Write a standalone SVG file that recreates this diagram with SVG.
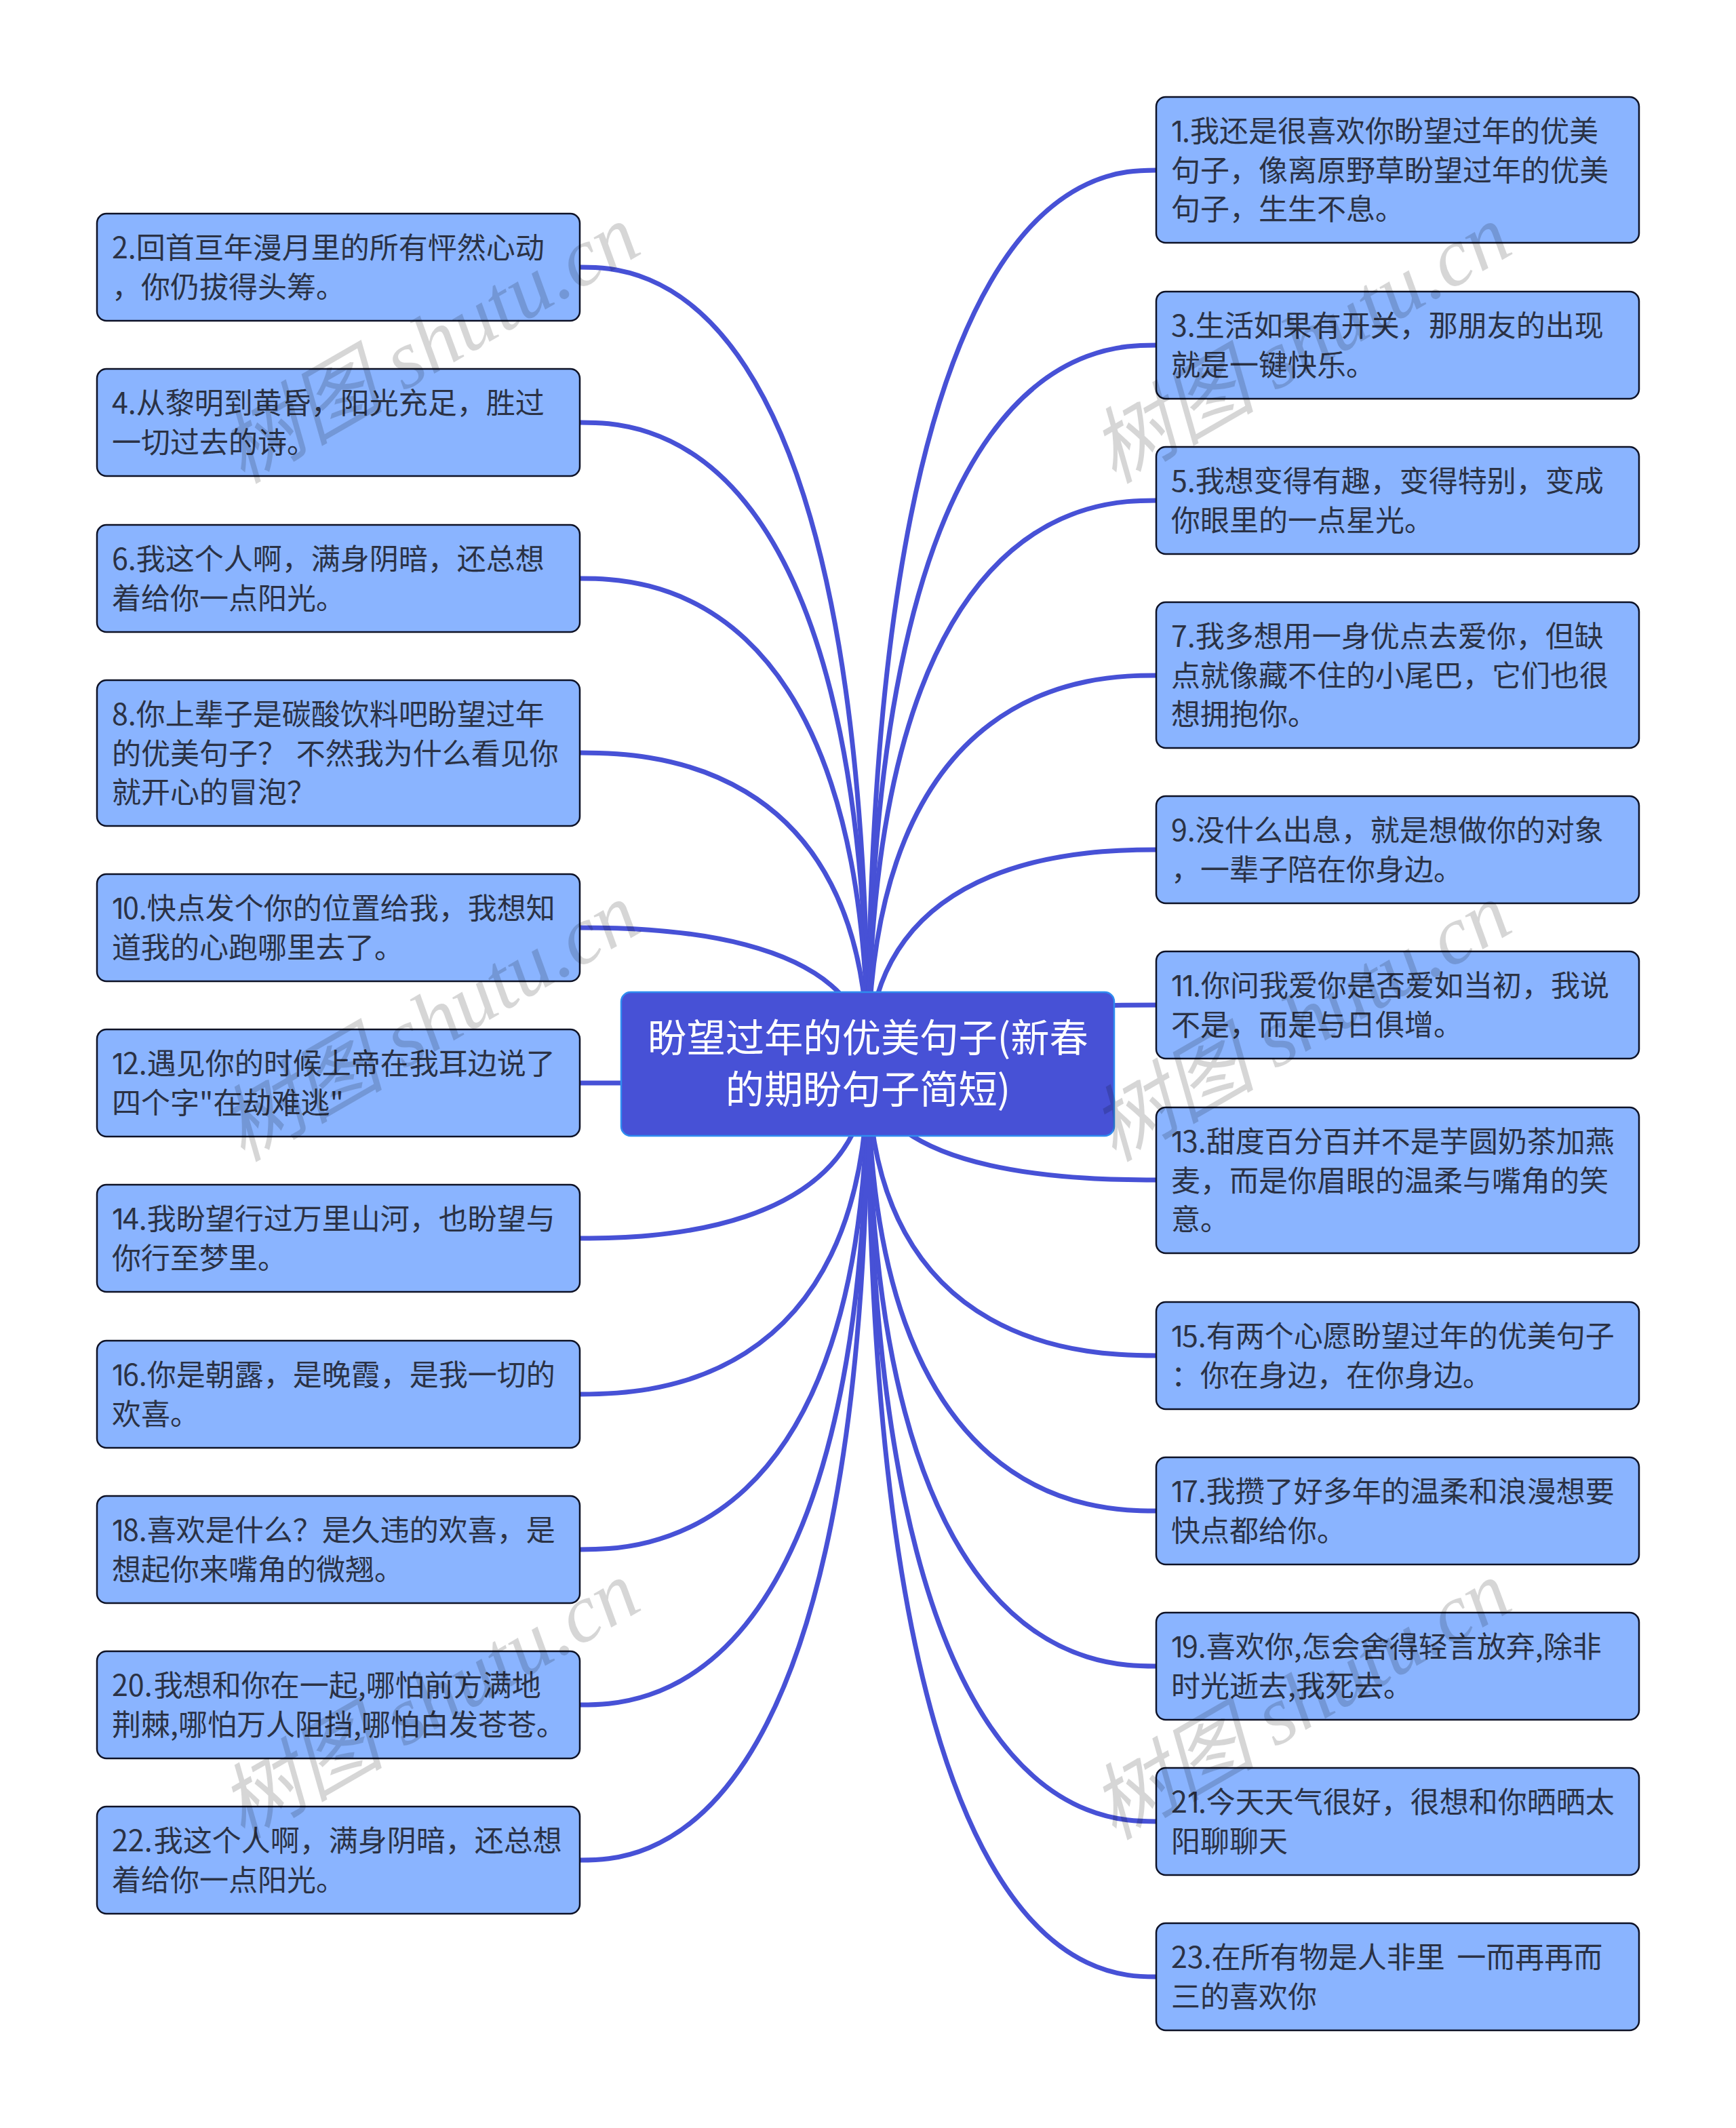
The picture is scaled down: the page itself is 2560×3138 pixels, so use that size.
<svg xmlns="http://www.w3.org/2000/svg" width="2560" height="3138" viewBox="0 0 2560 3138">
<style>
.c{fill:none;stroke:#4751d6;stroke-width:7}
.n{fill:#8ab4ff;stroke:#0e1226;stroke-width:2.5}
.r{fill:#4751d6;stroke:#2f8cf0;stroke-width:2.5}
.t{font-family:"Noto Sans CJK SC","Noto Sans",sans-serif;font-size:43px;fill:#2b3245}
.d{font-family:Inter,"Noto Sans",sans-serif;letter-spacing:-1.5px}
.h{font-family:"Noto Sans CJK SC","Noto Sans",sans-serif;font-size:57.3px;fill:#fff;text-anchor:middle}
.w{font-family:"Liberation Serif","Noto Sans CJK SC",serif;font-style:italic;font-size:122px;fill:#000;fill-opacity:.16;text-anchor:middle}
</style>
<rect width="2560" height="3138" fill="#fff"/>
<g id="connectors">
<path class="c" d="M1280 1569C1280 394 940 394 855 394"/>
<path class="c" d="M1280 1569C1280 623 940 623 855 623"/>
<path class="c" d="M1280 1569C1280 853 940 853 855 853"/>
<path class="c" d="M1280 1569C1280 1110 940 1110 855 1110"/>
<path class="c" d="M1280 1569C1280 1368 940 1368 855 1368"/>
<path class="c" d="M1280 1569C1280 1597 940 1597 855 1597"/>
<path class="c" d="M1280 1569C1280 1826 940 1826 855 1826"/>
<path class="c" d="M1280 1569C1280 2056 940 2056 855 2056"/>
<path class="c" d="M1280 1569C1280 2285 940 2285 855 2285"/>
<path class="c" d="M1280 1569C1280 2514 940 2514 855 2514"/>
<path class="c" d="M1280 1569C1280 2743 940 2743 855 2743"/>
<path class="c" d="M1280 1569C1280 251 1620 251 1705 251"/>
<path class="c" d="M1280 1569C1280 509 1620 509 1705 509"/>
<path class="c" d="M1280 1569C1280 738 1620 738 1705 738"/>
<path class="c" d="M1280 1569C1280 996 1620 996 1705 996"/>
<path class="c" d="M1280 1569C1280 1253 1620 1253 1705 1253"/>
<path class="c" d="M1280 1569C1280 1482 1620 1482 1705 1482"/>
<path class="c" d="M1280 1569C1280 1740 1620 1740 1705 1740"/>
<path class="c" d="M1280 1569C1280 1999 1620 1999 1705 1999"/>
<path class="c" d="M1280 1569C1280 2228 1620 2228 1705 2228"/>
<path class="c" d="M1280 1569C1280 2457 1620 2457 1705 2457"/>
<path class="c" d="M1280 1569C1280 2686 1620 2686 1705 2686"/>
<path class="c" d="M1280 1569C1280 2915 1620 2915 1705 2915"/>
</g>
<g id="root"><rect class="r" x="916" y="1463" width="727" height="212" rx="14"/>
<text class="h" x="1280" y="1551">盼望过年的优美句子(新春</text><text class="h" x="1280" y="1627">的期盼句子简短)</text></g>
<g id="n2"><rect class="n" x="143" y="315" width="712" height="158" rx="14"/><text class="t" x="165" y="381">2.回首亘年漫月里的所有怦然心动</text><text class="t" x="165" y="439">，你仍拔得头筹。</text></g>
<g id="n4"><rect class="n" x="143" y="544" width="712" height="158" rx="14"/><text class="t" x="165" y="610">4.从黎明到黄昏，阳光充足，胜过</text><text class="t" x="165" y="668">一切过去的诗。</text></g>
<g id="n6"><rect class="n" x="143" y="774" width="712" height="158" rx="14"/><text class="t" x="165" y="840">6.我这个人啊，满身阴暗，还总想</text><text class="t" x="165" y="898">着给你一点阳光。</text></g>
<g id="n8"><rect class="n" x="143" y="1003" width="712" height="215" rx="14"/><text class="t" x="165" y="1069">8.你上辈子是碳酸饮料吧盼望过年</text><text class="t" x="165" y="1127">的优美句子？ <tspan dx="4">不然我为什么看见你</tspan></text><text class="t" x="165" y="1184">就开心的冒泡？</text></g>
<g id="n10"><rect class="n" x="143" y="1289" width="712" height="158" rx="14"/><text class="t" x="165" y="1355"><tspan class="d">1</tspan>0.快点发个你的位置给我，我想知</text><text class="t" x="165" y="1413">道我的心跑哪里去了。</text></g>
<g id="n12"><rect class="n" x="143" y="1518" width="712" height="158" rx="14"/><text class="t" x="165" y="1584"><tspan class="d">1</tspan>2.遇见你的时候上帝在我耳边说了</text><text class="t" x="165" y="1642">四个字"在劫难逃"</text></g>
<g id="n14"><rect class="n" x="143" y="1747" width="712" height="158" rx="14"/><text class="t" x="165" y="1813"><tspan class="d">1</tspan>4.我盼望行过万里山河，也盼望与</text><text class="t" x="165" y="1871">你行至梦里。</text></g>
<g id="n16"><rect class="n" x="143" y="1977" width="712" height="158" rx="14"/><text class="t" x="165" y="2043"><tspan class="d">1</tspan>6.你是朝露，是晚霞，是我一切的</text><text class="t" x="165" y="2101">欢喜。</text></g>
<g id="n18"><rect class="n" x="143" y="2206" width="712" height="158" rx="14"/><text class="t" x="165" y="2272"><tspan class="d">1</tspan>8.喜欢是什么？是久违的欢喜，是</text><text class="t" x="165" y="2330">想起你来嘴角的微翘。</text></g>
<g id="n20"><rect class="n" x="143" y="2435" width="712" height="158" rx="14"/><text class="t" x="165" y="2501">20.<tspan dx="2">我想和你在一起,哪怕前方满地</tspan></text><text class="t" x="165" y="2559">荆棘,哪怕万人阻挡,哪怕白发苍苍。</text></g>
<g id="n22"><rect class="n" x="143" y="2664" width="712" height="158" rx="14"/><text class="t" x="165" y="2730">22.<tspan dx="2">我这个人啊，满身阴暗，还总想</tspan></text><text class="t" x="165" y="2788">着给你一点阳光。</text></g>
<g id="n1"><rect class="n" x="1705" y="143" width="712" height="215" rx="14"/><text class="t" x="1727" y="209"><tspan class="d">1</tspan>.我还是很喜欢你盼望过年的优美</text><text class="t" x="1727" y="267">句子，像离原野草盼望过年的优美</text><text class="t" x="1727" y="324">句子，生生不息。</text></g>
<g id="n3"><rect class="n" x="1705" y="430" width="712" height="158" rx="14"/><text class="t" x="1727" y="496">3.生活如果有开关，那朋友的出现</text><text class="t" x="1727" y="554">就是一键快乐。</text></g>
<g id="n5"><rect class="n" x="1705" y="659" width="712" height="158" rx="14"/><text class="t" x="1727" y="725">5.我想变得有趣，变得特别，变成</text><text class="t" x="1727" y="783">你眼里的一点星光。</text></g>
<g id="n7"><rect class="n" x="1705" y="888" width="712" height="215" rx="14"/><text class="t" x="1727" y="954">7.我多想用一身优点去爱你，但缺</text><text class="t" x="1727" y="1012">点就像藏不住的小尾巴，它们也很</text><text class="t" x="1727" y="1069">想拥抱你。</text></g>
<g id="n9"><rect class="n" x="1705" y="1174" width="712" height="158" rx="14"/><text class="t" x="1727" y="1240">9.没什么出息，就是想做你的对象</text><text class="t" x="1727" y="1298">，一辈子陪在你身边。</text></g>
<g id="n11"><rect class="n" x="1705" y="1403" width="712" height="158" rx="14"/><text class="t" x="1727" y="1469"><tspan class="d">11</tspan>.你问我爱你是否爱如当初，我说</text><text class="t" x="1727" y="1527">不是，而是与日俱增。</text></g>
<g id="n13"><rect class="n" x="1705" y="1633" width="712" height="215" rx="14"/><text class="t" x="1727" y="1699"><tspan class="d">1</tspan>3.甜度百分百并不是芋圆奶茶加燕</text><text class="t" x="1727" y="1757">麦，而是你眉眼的温柔与嘴角的笑</text><text class="t" x="1727" y="1814">意。</text></g>
<g id="n15"><rect class="n" x="1705" y="1920" width="712" height="158" rx="14"/><text class="t" x="1727" y="1986"><tspan class="d">1</tspan>5.有两个心愿盼望过年的优美句子</text><text class="t" x="1727" y="2044">：你在身边，在你身边。</text></g>
<g id="n17"><rect class="n" x="1705" y="2149" width="712" height="158" rx="14"/><text class="t" x="1727" y="2215"><tspan class="d">1</tspan>7.我攒了好多年的温柔和浪漫想要</text><text class="t" x="1727" y="2273">快点都给你。</text></g>
<g id="n19"><rect class="n" x="1705" y="2378" width="712" height="158" rx="14"/><text class="t" x="1727" y="2444"><tspan class="d">1</tspan>9.喜欢你,怎会舍得轻言放弃,除非</text><text class="t" x="1727" y="2502">时光逝去,我死去。</text></g>
<g id="n21"><rect class="n" x="1705" y="2607" width="712" height="158" rx="14"/><text class="t" x="1727" y="2673">2<tspan class="d">1</tspan>.今天天气很好，很想和你晒晒太</text><text class="t" x="1727" y="2731">阳聊聊天</text></g>
<g id="n23"><rect class="n" x="1705" y="2836" width="712" height="158" rx="14"/><text class="t" x="1727" y="2902">23.在所有物是人非里 <tspan dx="8">一而再再而</tspan></text><text class="t" x="1727" y="2960">三的喜欢你</text></g>
<g id="watermarks">
<text class="w" transform="translate(654 543) rotate(-30)">树图 shutu.cn</text>
<text class="w" transform="translate(654 1543) rotate(-30)">树图 shutu.cn</text>
<text class="w" transform="translate(654 2543) rotate(-30)">树图 shutu.cn</text>
<text class="w" transform="translate(1939 543) rotate(-30)">树图 shutu.cn</text>
<text class="w" transform="translate(1939 1543) rotate(-30)">树图 shutu.cn</text>
<text class="w" transform="translate(1939 2543) rotate(-30)">树图 shutu.cn</text>
</g>
</svg>
